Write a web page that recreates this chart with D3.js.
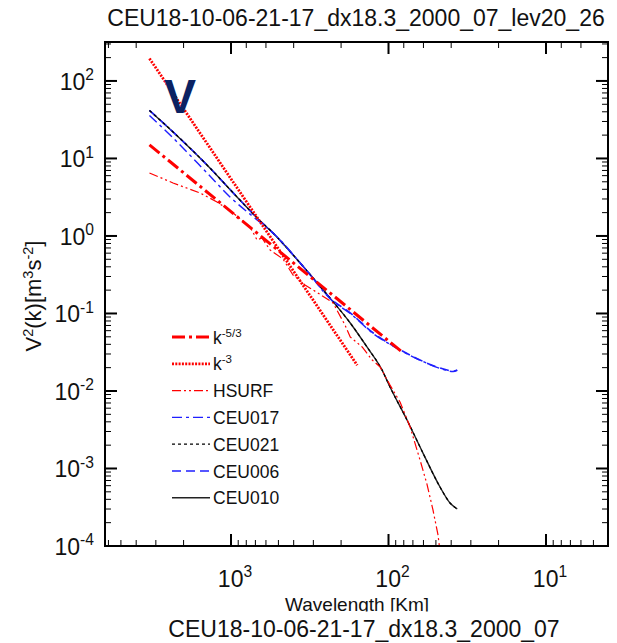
<!DOCTYPE html>
<html>
<head>
<meta charset="utf-8">
<script src="https://cdn.jsdelivr.net/npm/d3@7"></script>
<style>
  html, body { margin: 0; padding: 0; background: #fff; }
  svg { display: block; font-family: "Liberation Sans", Arial, Helvetica, sans-serif; }
</style>
</head>
<body>
<svg id="chart" width="617" height="643"></svg>
<script>
// Kinetic energy spectra of the meridional wind, level 20-26

// reference slopes (end points of straight lines in log-log space)
const wlK53 = [3294, 82];
const valK53 = [15, 0.0318];
const wlK3 = [3294, 158];
const valK3 = [195, 0.0215];

// HSURF spectrum
const wlHSURF = [3294, 2334, 1574, 1227, 970, 757, 683, 636, 565, 468, 404, 339, 281, 225, 189, 175, 147, 127, 113, 97.8, 84.5, 72.9, 63.1, 57, 52.2, 48.5, 46.4];
const valHSURF = [6.5, 4.83, 3.59, 2.75, 1.98, 1.31, 0.888, 0.942, 0.66, 0.505, 0.314, 0.233, 0.184, 0.137, 0.0711, 0.0498, 0.037, 0.0251, 0.0204, 0.0119, 0.00721, 0.00343, 0.00129, 6.3e-4, 2.92e-4, 1.39e-4, 6.6e-5];

// model runs
const wlCEU017 = [3294, 2334, 1420, 1015, 683, 541, 329, 235, 175, 125, 88.3, 63.1, 47.1, 38.9, 36.6];
const valCEU017 = [35.9, 18.4, 6.5, 3.19, 1.61, 1.09, 0.353, 0.155, 0.1, 0.055, 0.0355, 0.025, 0.0196, 0.0178, 0.0185];

const wlCEU021 = [3294, 2334, 1420, 916, 683, 541, 329, 235, 175, 137, 110, 97.8, 76.3, 60.4, 47.1, 40.7, 36.6];
const valCEU021 = [41.6, 22.0, 8.24, 3.19, 1.71, 1.09, 0.353, 0.158, 0.0754, 0.037, 0.0187, 0.01126, 0.00423, 0.00158, 5.77e-4, 3.59e-4, 3.0e-4];

const wlCEU006 = [3294, 2334, 1420, 916, 683, 541, 329, 235, 175, 125, 88.3, 63.1, 47.1, 38.9, 36.6];
const valCEU006 = [41.6, 22.0, 8.24, 3.19, 1.71, 1.09, 0.353, 0.158, 0.1015, 0.056, 0.0359, 0.0251, 0.0198, 0.0181, 0.0187];

const wlCEU010 = [3294, 2334, 1420, 916, 683, 541, 329, 235, 175, 137, 110, 97.8, 76.3, 60.4, 47.1, 40.7, 36.6];
const valCEU010 = [41.6, 22.0, 8.24, 3.19, 1.71, 1.09, 0.353, 0.158, 0.0754, 0.037, 0.0187, 0.01126, 0.00423, 0.00158, 5.77e-4, 3.59e-4, 3.0e-4];

// axes
const xDomain = [6310, 4.04];
const yDomain = [1e-4, 318];
const xMajor = [1000, 100, 10];
const xMajorExp = ["3", "2", "1"];
const xMinorBottom = [6000, 5000, 4000, 3000, 2000, 900, 800, 700, 600, 500, 400, 300, 200, 90, 80, 70, 60, 50, 40, 30, 20, 9, 8, 7, 6, 5];
const xMinorTop = [6000, 4000, 2000, 800, 600, 400, 200, 80, 60, 40, 20, 8, 6];
const yMajor = [1e2, 1e1, 1e0, 1e-1, 1e-2, 1e-3, 1e-4];
const yMajorExp = ["2", "1", "0", "-1", "-2", "-3", "-4"];
const yMinor = [300, 200, 90, 80, 70, 60, 50, 40, 30, 20, 9, 8, 7, 6, 5, 4, 3, 2,
  0.9, 0.8, 0.7, 0.6, 0.5, 0.4, 0.3, 0.2, 0.09, 0.08, 0.07, 0.06, 0.05, 0.04, 0.03, 0.02,
  0.009, 0.008, 0.007, 0.006, 0.005, 0.004, 0.003, 0.002, 9e-4, 8e-4, 7e-4, 6e-4, 5e-4, 4e-4, 3e-4, 2e-4];

const titleText = "CEU18-10-06-21-17_dx18.3_2000_07_lev20_26";
const subtitleText = "CEU18-10-06-21-17_dx18.3_2000_07";
const xLabelText = "Wavelength [Km]";

const plot = { left: 105, right: 608, top: 42, bottom: 546 };

const svg = d3.select("#chart");
const x = d3.scaleLog().domain(xDomain).range([plot.left, plot.right]);
const y = d3.scaleLog().domain(yDomain).range([plot.bottom, plot.top]);

svg.append("defs").append("clipPath").attr("id", "plotClip")
  .append("rect").attr("x", plot.left).attr("y", plot.top)
  .attr("width", plot.right - plot.left).attr("height", plot.bottom - plot.top);

// series definitions with their line styles (legend order, top to bottom)
const series = [
  { name: "k53", wl: wlK53, val: valK53, color: "#ff0000", width: 3, dash: "13,4,3,4", curve: d3.curveLinear },
  { name: "k3", wl: wlK3, val: valK3, color: "#ff0000", width: 2.8, dash: "2,1.3", curve: d3.curveLinear },
  { name: "HSURF", wl: wlHSURF, val: valHSURF, color: "#ff0000", width: 1.2, dash: "9,3,2,3,2,3", curve: d3.curveLinear },
  { name: "CEU017", wl: wlCEU017, val: valCEU017, color: "#1f1fff", width: 1.4, dash: "10,4,3,4", curve: d3.curveMonotoneX },
  { name: "CEU021", wl: wlCEU021, val: valCEU021, color: "#000000", width: 1.3, dash: "3,3", curve: d3.curveMonotoneX },
  { name: "CEU006", wl: wlCEU006, val: valCEU006, color: "#1f1fff", width: 1.6, dash: "9,5", curve: d3.curveMonotoneX },
  { name: "CEU010", wl: wlCEU010, val: valCEU010, color: "#222222", width: 1.4, dash: null, curve: d3.curveMonotoneX }
];

// curves are drawn bottom-of-legend first, so the reference slopes end up on top
const lineGroup = svg.append("g").attr("clip-path", "url(#plotClip)");
series.slice().reverse().forEach(s => {
  const pts = s.wl.map((w, i) => [w, s.val[i]]);
  const line = d3.line().x(d => x(d[0])).y(d => y(d[1])).curve(s.curve);
  lineGroup.append("path")
    .attr("d", line(pts))
    .attr("fill", "none")
    .attr("stroke", s.color)
    .attr("stroke-width", s.width)
    .attr("stroke-dasharray", s.dash)
    .attr("stroke-linejoin", "round");
});

// frame
svg.append("rect")
  .attr("x", plot.left).attr("y", plot.top)
  .attr("width", plot.right - plot.left).attr("height", plot.bottom - plot.top)
  .attr("fill", "none").attr("stroke", "#000").attr("stroke-width", 2);

// inward ticks on all four sides
const ticks = svg.append("g").attr("stroke", "#000");
const majorLen = 12, minorLen = 6;
xMajor.forEach(v => {
  ticks.append("line").attr("x1", x(v)).attr("x2", x(v)).attr("y1", plot.bottom).attr("y2", plot.bottom - majorLen).attr("stroke-width", 2);
  ticks.append("line").attr("x1", x(v)).attr("x2", x(v)).attr("y1", plot.top).attr("y2", plot.top + majorLen).attr("stroke-width", 2);
});
xMinorBottom.forEach(v => {
  ticks.append("line").attr("x1", x(v)).attr("x2", x(v)).attr("y1", plot.bottom).attr("y2", plot.bottom - minorLen).attr("stroke-width", 1);
});
xMinorTop.forEach(v => {
  ticks.append("line").attr("x1", x(v)).attr("x2", x(v)).attr("y1", plot.top).attr("y2", plot.top + minorLen).attr("stroke-width", 1);
});
yMajor.forEach(v => {
  ticks.append("line").attr("x1", plot.left).attr("x2", plot.left + majorLen).attr("y1", y(v)).attr("y2", y(v)).attr("stroke-width", 2);
  ticks.append("line").attr("x1", plot.right).attr("x2", plot.right - majorLen).attr("y1", y(v)).attr("y2", y(v)).attr("stroke-width", 2);
});
yMinor.forEach(v => {
  ticks.append("line").attr("x1", plot.left).attr("x2", plot.left + minorLen).attr("y1", y(v)).attr("y2", y(v)).attr("stroke-width", 1);
  ticks.append("line").attr("x1", plot.right).attr("x2", plot.right - minorLen).attr("y1", y(v)).attr("y2", y(v)).attr("stroke-width", 1);
});

// power-of-ten labels
function powerLabel(g, base, exp, fs) {
  g.append("tspan").text(base);
  g.append("tspan").attr("dy", -fs * 0.42).attr("font-size", fs * 0.68).text(exp);
}
const tickFs = 23;
xMajor.forEach((v, i) => {
  const t = svg.append("text").attr("x", x(v) + 4).attr("y", 587)
    .attr("text-anchor", "middle").attr("font-size", tickFs).attr("fill", "#111");
  powerLabel(t, "10", xMajorExp[i], tickFs);
});
yMajor.forEach((v, i) => {
  const t = svg.append("text").attr("x", 94).attr("y", y(v) + 9)
    .attr("text-anchor", "end").attr("font-size", tickFs).attr("fill", "#111");
  powerLabel(t, "10", yMajorExp[i], tickFs);
});

// y-axis title
const yt = svg.append("text").attr("transform", "translate(41,296) rotate(-90)")
  .attr("text-anchor", "middle").attr("font-size", 22).attr("fill", "#111");
yt.append("tspan").text("V");
yt.append("tspan").attr("dy", -8).attr("font-size", 14.5).text("2");
yt.append("tspan").attr("dy", 8).text("(k)[m");
yt.append("tspan").attr("dy", -8).attr("font-size", 14.5).text("3");
yt.append("tspan").attr("dy", 8).text("s");
yt.append("tspan").attr("dy", -8).attr("font-size", 14.5).text("-2");
yt.append("tspan").attr("dy", 8).text("]");

// title and bottom strings
svg.append("text").attr("x", 356).attr("y", 26).attr("text-anchor", "middle")
  .attr("font-size", 23).attr("fill", "#111").text(titleText);

svg.append("clipPath").attr("id", "xlabClip")
  .append("rect").attr("x", 0).attr("y", 580).attr("width", 617).attr("height", 31.5);
svg.append("text").attr("x", 357).attr("y", 611).attr("text-anchor", "middle")
  .attr("font-size", 19).attr("fill", "#111").attr("clip-path", "url(#xlabClip)").text(xLabelText);

svg.append("text").attr("x", 364).attr("y", 637).attr("text-anchor", "middle")
  .attr("font-size", 23).attr("fill", "#111").text(subtitleText);

// panel letter
svg.append("text").attr("x", 164).attr("y", 113).attr("font-size", 48).attr("font-weight", "bold")
  .attr("fill", "#0b2263").text("V");

// legend
const legendRows = [
  { s: series[0], label: "k", sup: "-5/3" },
  { s: series[1], label: "k", sup: "-3" },
  { s: series[2], label: "HSURF" },
  { s: series[3], label: "CEU017" },
  { s: series[4], label: "CEU021" },
  { s: series[5], label: "CEU006" },
  { s: series[6], label: "CEU010" }
];
const legend = svg.append("g");
legendRows.forEach((r, i) => {
  const yy = 337 + i * 26.8;
  legend.append("line").attr("x1", 172).attr("x2", 210).attr("y1", yy).attr("y2", yy)
    .attr("stroke", r.s.color).attr("stroke-width", r.s.width).attr("stroke-dasharray", r.s.dash);
  const t = legend.append("text").attr("x", 213).attr("y", yy + 6.5).attr("font-size", 17.5).attr("fill", "#111");
  t.append("tspan").text(r.label);
  if (r.sup) t.append("tspan").attr("dy", -7).attr("font-size", 11.5).text(r.sup);
});
</script>
</body>
</html>
